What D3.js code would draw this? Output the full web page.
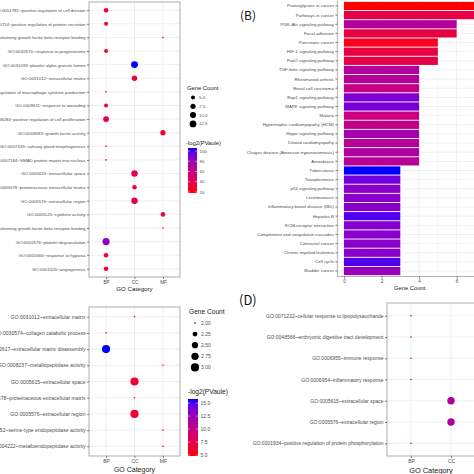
<!DOCTYPE html>
<html><head><meta charset="utf-8">
<script src="https://cdn.jsdelivr.net/npm/d3@7"></script>
<style>body{margin:0;background:#fff;overflow:hidden} text{font-family:"Liberation Sans",Arial,sans-serif}</style>
</head><body>
<script>
// ---------- Panel A (GO dot plot) ----------
const aTerms = [
  "GO:0051781~positive regulation of cell division",
  "GO:0050714~positive regulation of protein secretion",
  "GO:0034713~type I transforming growth factor beta receptor binding",
  "GO:0032570~response to progesterone",
  "GO:0031093~platelet alpha granule lumen",
  "GO:0031012~extracellular matrix",
  "GO:0010935~regulation of macrophage cytokine production",
  "GO:0009611~response to wounding",
  "GO:0008284~positive regulation of cell proliferation",
  "GO:0008083~growth factor activity",
  "GO:0007435~salivary gland morphogenesis",
  "GO:0007184~SMAD protein import into nucleus",
  "GO:0005615~extracellular space",
  "GO:0005578~proteinaceous extracellular matrix",
  "GO:0005576~extracellular region",
  "GO:0005125~cytokine activity",
  "GO:0005114~type II transforming growth factor beta receptor binding",
  "GO:0002576~platelet degranulation",
  "GO:0001666~response to hypoxia",
  "GO:0001525~angiogenesis"
];
const aCategory = ["BP","BP","MF","BP","CC","CC","BP","BP","BP","MF","BP","BP","CC","CC","CC","MF","MF","BP","BP","BP"];
const aGeneCount = [6,5,3,5,13,8,3,5,9,8,3,3,11,6,11,6,3,14,6,6];
const aLogP = [28,28,18,28,106,32,22,28,36,32,22,22,36,30,36,30,22,84,28,28];
const aCategories = ["BP","CC","MF"];
const aSizeBreaks = [5.0, 7.5, 10.0, 12.5];
const aColorBreaks = [20, 40, 60, 80, 100];

// ---------- Panel B (KEGG bar chart) ----------
const bPathways = [
  "Proteoglycans in cancer","Pathways in cancer","PI3K-Akt signaling pathway","Focal adhesion",
  "Pancreatic cancer","HIF-1 signaling pathway","FoxO signaling pathway","TGF-beta signaling pathway",
  "Rheumatoid arthritis","Renal cell carcinoma","Rap1 signaling pathway","MAPK signaling pathway",
  "Malaria","Hypertrophic cardiomyopathy (HCM)","Hippo signaling pathway","Dilated cardiomyopathy",
  "Chagas disease (American trypanosomiasis)","Amoebiasis","Tuberculosis","Toxoplasmosis",
  "p53 signaling pathway","Leishmaniasis","Inflammatory bowel disease (IBD)","Hepatitis B",
  "ECM-receptor interaction","Complement and coagulation cascades","Colorectal cancer",
  "Chronic myeloid leukemia","Cell cycle","Bladder cancer"
];
const bGeneCount = [7,7,6,6,5,5,5,4,4,4,4,4,4,4,4,4,4,4,3,3,3,3,3,3,3,3,3,3,3,3];
const bPValue = [0.0000,0.0022,0.0058,0.0020,0.0006,0.0020,0.0021,0.0058,0.0056,0.0048,0.0082,0.0084,
  0.0046,0.0050,0.0066,0.0055,0.0060,0.0056,0.0100,0.0086,0.0078,0.0078,0.0078,0.0093,0.0080,0.0078,
  0.0078,0.0078,0.0093,0.0072];
const bXTicks = [0, 2, 4, 6];

// ---------- Panel C (GO dot plot) ----------
const cTerms = [
  "GO:0031012~extracellular matrix",
  "GO:0030574~collagen catabolic process",
  "GO:0022617~extracellular matrix disassembly",
  "GO:0008237~metallopeptidase activity",
  "GO:0005615~extracellular space",
  "GO:0005578~proteinaceous extracellular matrix",
  "GO:0005576~extracellular region",
  "GO:0004252~serine-type endopeptidase activity",
  "GO:0004222~metalloendopeptidase activity"
];
const cCategory = ["CC","BP","BP","MF","CC","CC","CC","MF","MF"];
const cGeneCount = [2,2,3,2,3,2,3,2,2];
const cLogP = [5.6,5.4,15.8,5.6,6.3,5.4,6.3,5.4,5.2];
const cCategories = ["BP","CC","MF"];
const cSizeBreaks = [2.00, 2.25, 2.50, 2.75, 3.00];
const cColorBreaks = [15.0, 12.5, 10.0, 7.5, 5.0];

// ---------- Panel D (GO dot plot) ----------
const dTerms = [
  "GO:0071222~cellular response to lipopolysaccharide",
  "GO:0048566~embryonic digestive tract development",
  "GO:0006955~immune response",
  "GO:0006954~inflammatory response",
  "GO:0005615~extracellular space",
  "GO:0005576~extracellular region",
  "GO:0001934~positive regulation of protein phosphorylation"
];
const dCategory = ["BP","BP","BP","BP","CC","CC","BP"];
const dGeneCount = [2,2,2,2,3,3,2];
const dLogP = [5.4,5.2,5.4,5.4,7.0,7.0,5.2];
const dCategories = ["BP","CC"];

// ================= drawing =================
const W = 474, H = 474;
const svg = d3.select("body").append("svg").attr("width", W).attr("height", H);
const GRID = "#ebebeb", BORDER = "#9a9a9a", TXT = "#4d4d4d";

function colorScale(lo, hi) {
  return d3.scaleLinear().domain([lo, hi]).range(["#ff0000", "#0000ff"]).interpolate(d3.interpolateLab);
}
function sizeScale(lo, hi, rmin, rmax) {
  const t = d3.scaleLinear().domain([lo, hi]).range([0, 1]).clamp(true);
  const r = d3.scaleLinear().domain([0, 1]).range([rmin, rmax]);
  return v => r(Math.sqrt(t(v)));
}

function dotPanel(o) {
  const g = svg.append("g");
  const x = d3.scalePoint().domain(o.cats).range([o.x0, o.x1]).padding(0.6);
  const y = d3.scalePoint().domain(o.terms).range([o.y0, o.y1]).padding(0.6);
  g.append("rect").attr("x", o.x0).attr("y", o.y0).attr("width", o.x1 - o.x0).attr("height", o.y1 - o.y0).attr("fill", "#fff");
  g.selectAll(".gx").data(o.cats).join("line").attr("x1", d => x(d)).attr("x2", d => x(d))
    .attr("y1", o.y0).attr("y2", o.y1).attr("stroke", GRID).attr("stroke-width", 0.8);
  g.selectAll(".gy").data(o.terms).join("line").attr("y1", d => y(d)).attr("y2", d => y(d))
    .attr("x1", o.x0).attr("x2", o.x1).attr("stroke", GRID).attr("stroke-width", 0.8);
  g.selectAll("circle").data(o.terms).join("circle")
    .attr("cx", (d, i) => x(o.catArr[i])).attr("cy", d => y(d))
    .attr("r", (d, i) => o.size(o.count[i])).attr("fill", (d, i) => o.color(o.val[i]));
  g.append("rect").attr("x", o.x0).attr("y", o.y0).attr("width", o.x1 - o.x0).attr("height", o.y1 - o.y0)
    .attr("fill", "none").attr("stroke", BORDER).attr("stroke-width", 0.8);
  const ya = g.append("g").attr("transform", `translate(${o.x0},0)`)
    .call(d3.axisLeft(y).tickSize(2).tickPadding(1.5));
  ya.select(".domain").remove();
  ya.selectAll("line").attr("stroke", "#333").attr("stroke-width", 0.6);
  ya.selectAll("text").attr("font-size", o.labelSize).attr("fill", TXT).attr("font-family", "Liberation Sans, Arial, sans-serif");
  const xa = g.append("g").attr("transform", `translate(0,${o.y1})`)
    .call(d3.axisBottom(x).tickSize(2).tickPadding(1.5));
  xa.select(".domain").remove();
  xa.selectAll("line").attr("stroke", "#333").attr("stroke-width", 0.6);
  xa.selectAll("text").attr("font-size", o.tickSize).attr("fill", TXT).attr("font-family", "Liberation Sans, Arial, sans-serif");
  g.append("text").attr("x", (o.x0 + o.x1) / 2).attr("y", o.titleY).attr("text-anchor", "middle")
    .attr("font-size", o.titleSize).attr("fill", "#222").text("GO Category");
  return g;
}

function legend(o) {
  const g = svg.append("g");
  g.append("text").attr("x", o.x).attr("y", o.sizeTitleY).attr("font-size", o.titleSize).attr("fill", "#222").text("Gene Count");
  o.sizeBreaks.forEach((b, i) => {
    const cy = o.sizeY0 + i * o.sizeStep;
    g.append("circle").attr("cx", o.dotX).attr("cy", cy).attr("r", o.size(b)).attr("fill", "#000");
    g.append("text").attr("x", o.dotX + o.labelDx).attr("y", cy).attr("dy", "0.35em")
      .attr("font-size", o.labelSize).attr("fill", TXT).text(o.fmt(b));
  });
  g.append("text").attr("x", o.x - 1).attr("y", o.colorTitleY).attr("font-size", o.titleSize).attr("fill", "#222").text("-log2(PVaule)");
  const id = "grad" + o.id;
  const grad = svg.append("defs").append("linearGradient").attr("id", id)
    .attr("x1", 0).attr("y1", 1).attr("x2", 0).attr("y2", 0);
  d3.range(0, 1.0001, 0.1).forEach(t => {
    const v = o.cDomain[0] + t * (o.cDomain[1] - o.cDomain[0]);
    grad.append("stop").attr("offset", t).attr("stop-color", o.color(v));
  });
  const cy = d3.scaleLinear().domain(o.cDomain).range([o.barY1, o.barY0]);
  g.append("rect").attr("x", o.barX).attr("y", o.barY0).attr("width", o.barW).attr("height", o.barY1 - o.barY0)
    .attr("fill", `url(#${id})`);
  o.colorBreaks.forEach(b => {
    g.append("line").attr("x1", o.barX).attr("x2", o.barX + 2).attr("y1", cy(b)).attr("y2", cy(b)).attr("stroke", "#fff").attr("stroke-width", 0.5);
    g.append("line").attr("x1", o.barX + o.barW - 2).attr("x2", o.barX + o.barW).attr("y1", cy(b)).attr("y2", cy(b)).attr("stroke", "#fff").attr("stroke-width", 0.5);
    g.append("text").attr("x", o.barX + o.barW + 2.5).attr("y", cy(b)).attr("dy", "0.35em")
      .attr("font-size", o.labelSize).attr("fill", TXT).text(o.cfmt(b));
  });
}

// ---- Panel A ----
const aColor = colorScale(18, 106);
const aSize = sizeScale(3, 14, 0.8, 3.6);
dotPanel({terms: aTerms, cats: aCategories, catArr: aCategory, count: aGeneCount, val: aLogP,
  x0: 89, x1: 180, y0: 2, y1: 277, size: aSize, color: aColor, labelSize: 4.4, tickSize: 4.6, titleSize: 6.2, titleY: 290.5});
legend({id: "A", x: 187, sizeTitleY: 90, titleSize: 5.8, sizeBreaks: aSizeBreaks, sizeY0: 97.5, sizeStep: 8.8,
  dotX: 193, labelDx: 6, labelSize: 4.4, size: aSize, fmt: d3.format(".1f"),
  colorTitleY: 145, color: aColor, cDomain: [18, 106], barX: 188, barY0: 148, barY1: 193, barW: 9,
  colorBreaks: aColorBreaks, cfmt: d3.format("d")});

// ---- Panel B ----
(function () {
  const g = svg.append("g");
  const x0 = 337.4, x1 = 482, y0 = 0.5, y1 = 276.5;
  const x = d3.scaleLinear().domain([-0.35, 7.35]).range([x0, x1]);
  const y = d3.scaleBand().domain(bPathways).range([y0, y1]).paddingInner(0.1).paddingOuter(0.15);
  const fill = d3.scaleLinear().domain(d3.extent(bPValue)).range(["#ff0000", "#0000ff"]).interpolate(d3.interpolateLab);
  g.append("rect").attr("x", x0).attr("y", y0).attr("width", x1 - x0).attr("height", y1 - y0).attr("fill", "#fff");
  const minor = [1, 3, 5, 7];
  g.selectAll(".mn").data(minor).join("line").attr("x1", d => x(d)).attr("x2", d => x(d)).attr("y1", y0).attr("y2", y1)
    .attr("stroke", "#f3f3f3").attr("stroke-width", 0.6);
  g.selectAll(".mj").data(bXTicks).join("line").attr("x1", d => x(d)).attr("x2", d => x(d)).attr("y1", y0).attr("y2", y1)
    .attr("stroke", GRID).attr("stroke-width", 0.8);
  g.selectAll(".hy").data(bPathways).join("line").attr("x1", x0).attr("x2", x1)
    .attr("y1", d => y(d) + y.bandwidth() / 2).attr("y2", d => y(d) + y.bandwidth() / 2)
    .attr("stroke", GRID).attr("stroke-width", 0.8);
  g.selectAll(".bar").data(bPathways).join("rect")
    .attr("x", x(0)).attr("y", d => y(d)).attr("height", y.bandwidth())
    .attr("width", (d, i) => x(bGeneCount[i]) - x(0)).attr("fill", (d, i) => fill(bPValue[i]));
  g.append("line").attr("x1", x0).attr("x2", x0).attr("y1", y0).attr("y2", y1).attr("stroke", BORDER).attr("stroke-width", 0.8);
  g.append("line").attr("x1", x0).attr("x2", x1).attr("y1", y1).attr("y2", y1).attr("stroke", BORDER).attr("stroke-width", 0.8);
  const ya = g.append("g").attr("transform", `translate(${x0},0)`).call(d3.axisLeft(y).tickSize(2).tickPadding(1.5));
  ya.select(".domain").remove();
  ya.selectAll("line").attr("stroke", "#333").attr("stroke-width", 0.6);
  ya.selectAll("text").attr("font-size", 4.4).attr("fill", TXT).attr("font-family", "Liberation Sans, Arial, sans-serif");
  const xa = g.append("g").attr("transform", `translate(0,${y1})`).call(d3.axisBottom(x).tickValues(bXTicks).tickSize(2).tickPadding(1.5));
  xa.select(".domain").remove();
  xa.selectAll("line").attr("stroke", "#333").attr("stroke-width", 0.6);
  xa.selectAll("text").attr("font-size", 4.6).attr("fill", TXT).attr("font-family", "Liberation Sans, Arial, sans-serif");
  g.append("text").attr("x", (x0 + x1) / 2).attr("y", 289.5).attr("text-anchor", "middle")
    .attr("font-size", 5.8).attr("fill", "#222").text("Gene Count");
})();

// ---- Panel C ----
const cColor = colorScale(4.8, 15.8);
const cSize = sizeScale(2, 3, 0.8, 4.1);
dotPanel({terms: cTerms, cats: cCategories, catArr: cCategory, count: cGeneCount, val: cLogP,
  x0: 89, x1: 180, y0: 307, y1: 456, size: cSize, color: cColor, labelSize: 5.1, tickSize: 5, titleSize: 7, titleY: 472});
legend({id: "C", x: 189, sizeTitleY: 313.5, titleSize: 6.6, sizeBreaks: cSizeBreaks, sizeY0: 323, sizeStep: 11.1,
  dotX: 195, labelDx: 6, labelSize: 5, size: cSize, fmt: d3.format(".2f"),
  colorTitleY: 394, color: cColor, cDomain: [4.8, 15.8], barX: 188, barY0: 399, barY1: 456, barW: 10,
  colorBreaks: cColorBreaks, cfmt: d3.format(".1f")});

// ---- Panel D ----
const dColor = colorScale(4.0, 9.0);
const dSize = sizeScale(2, 3, 0.8, 3.7);
dotPanel({terms: dTerms, cats: dCategories, catArr: dCategory, count: dGeneCount, val: dLogP,
  x0: 387, x1: 475, y0: 303, y1: 456, size: dSize, color: dColor, labelSize: 5, tickSize: 5, titleSize: 7.4, titleY: 473});

// ---- Panel letters ----
svg.append("text").attr("x", 240).attr("y", 20).attr("font-size", 12).attr("fill", "#111")
  .style("font-family", "'Noto Sans CJK SC','DejaVu Sans',sans-serif").text("(B)");
svg.append("text").attr("x", 239).attr("y", 305).attr("font-size", 13).attr("fill", "#111")
  .style("font-family", "'Noto Sans CJK SC','DejaVu Sans',sans-serif").text("(D)");
</script>
</body></html>
